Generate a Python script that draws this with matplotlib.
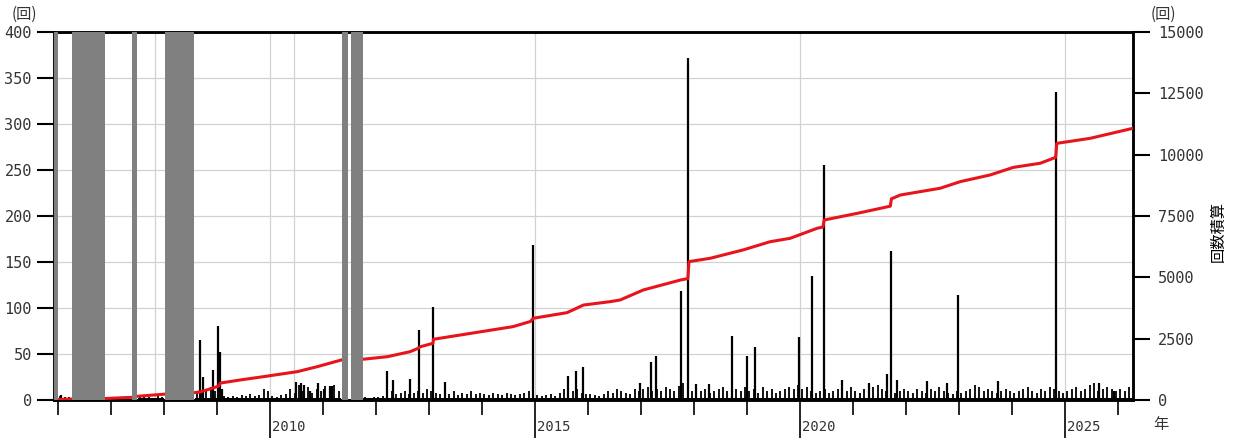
import numpy as np
import matplotlib.pyplot as plt
import matplotlib.transforms as mtransforms

# 日別回数のうち目立つもの (年(小数), 回数)
spike_years = [2006.05, 2008.68, 2008.74, 2008.91, 2009.02, 2009.05, 2009.09,
               2010.49, 2010.58, 2010.64, 2010.75, 2010.90, 2011.02, 2011.13, 2011.17,
               2012.21, 2012.32, 2012.64, 2012.81, 2013.07, 2013.30, 2014.96,
               2015.62, 2015.77, 2015.90, 2016.98, 2017.19, 2017.28, 2017.75, 2017.89,
               2018.04, 2018.28, 2018.72, 2019.00, 2019.15, 2019.98, 2020.23, 2020.45,
               2020.79, 2021.30, 2021.64, 2021.72, 2021.83, 2022.40, 2022.76, 2022.98,
               2023.73, 2024.82, 2025.64, 2025.92]
spike_counts = [5, 65, 25, 33, 80, 52, 12,
                20, 18, 16, 10, 18, 12, 15, 15,
                31, 22, 23, 76, 101, 20, 168,
                26, 32, 36, 19, 41, 48, 118, 372,
                17, 17, 70, 48, 58, 68, 135, 255,
                22, 18, 28, 162, 22, 21, 18, 114,
                21, 335, 19, 10]

# 月ごとの日別回数(背景)の目安 2006年1月から
background = [
    4, 3, 3, 0, 0, 0, 0, 0, 0, 0, 0, 2,          # 2006
    2, 3, 2, 3, 0, 0, 3, 4, 3, 2, 4, 3,          # 2007
    0, 0, 0, 0, 0, 0, 0, 8, 10, 12, 14, 10,      # 2008
    6, 4, 3, 4, 3, 5, 4, 6, 4, 5, 12, 10,        # 2009
    4, 3, 5, 6, 12, 8, 16, 10, 14, 8, 12, 10,    # 2010
    15, 12, 16, 10, 0, 0, 0, 0, 2, 3, 2, 3,      # 2011
    3, 4, 6, 10, 6, 8, 10, 6, 8, 10, 8, 12,      # 2012
    10, 8, 6, 8, 6, 10, 5, 8, 6, 10, 6, 8,       # 2013
    6, 5, 8, 6, 5, 8, 6, 5, 6, 8, 10, 6,         # 2014
    5, 4, 5, 6, 4, 8, 12, 6, 10, 12, 8, 6,       # 2015
    6, 5, 4, 6, 10, 8, 12, 10, 8, 6, 12, 10,     # 2016
    12, 14, 10, 12, 10, 14, 12, 10, 15, 18, 12, 10,  # 2017
    8, 10, 12, 8, 10, 12, 14, 10, 8, 12, 10, 14,     # 2018
    10, 12, 8, 14, 10, 12, 8, 10, 12, 14, 12, 16,    # 2019
    12, 14, 10, 8, 10, 12, 8, 10, 12, 8, 10, 14,     # 2020
    10, 8, 12, 10, 14, 16, 12, 10, 14, 8, 10, 12,    # 2021
    10, 8, 12, 10, 8, 12, 10, 14, 10, 8, 6, 10,      # 2022
    8, 10, 12, 16, 14, 10, 12, 10, 8, 10, 12, 10,    # 2023
    8, 10, 12, 14, 10, 8, 12, 10, 14, 12, 10, 8,     # 2024
    10, 12, 14, 10, 12, 16, 18, 10, 12, 14, 12, 10,  # 2025
    12, 10, 14, 8,                                   # 2026
]

# 回数積算 (None は欠測)
cum_years = [2006.0, 2006.26, None, 2006.89, 2007.40, None, 2007.49, 2008.02, None,
             2008.57, 2008.68, 2008.92, 2009.02, 2009.06, 2009.43, 2009.87, 2010.51,
             2010.89, 2011.34, None, 2011.75, 2012.21, 2012.64, 2012.79, 2012.83,
             2013.07, 2013.08, 2014.58, 2014.91, 2014.96, 2015.60, 2015.91, 2016.42,
             2016.60, 2017.04, 2017.74, 2017.88, 2017.90, 2018.30, 2018.92, 2019.43,
             2019.81, 2020.32, 2020.43, 2020.45, 2021.08, 2021.70, 2021.72, 2021.89,
             2022.64, 2023.02, 2023.58, 2024.02, 2024.53, 2024.82, 2024.84, 2025.47,
             2026.28]
cum_counts = [20, 40, None, 60, 110, None, 150, 240, None,
              300, 330, 490, 560, 690, 815, 950, 1155,
              1360, 1630, None, 1660, 1765, 1970, 2105, 2170,
              2310, 2475, 2990, 3200, 3330, 3560, 3870, 4010,
              4075, 4485, 4890, 4950, 5640, 5775, 6115, 6450,
              6590, 7000, 7050, 7335, 7610, 7900, 8200, 8355,
              8630, 8900, 9170, 9480, 9650, 9890, 10460, 10665,
              11075]

# 欠測期間
gaps = [(2005.90, 2006.0), (2006.26, 2006.89), (2007.40, 2007.49),
        (2008.02, 2008.57), (2011.36, 2011.47), (2011.53, 2011.75)]
extra_grid = [2007.83, 2010.45]

num_font = ['DejaVu Sans Mono']
jp_font = ['Noto Sans CJK JP', 'DejaVu Sans']

fig = plt.figure(figsize=(12.34, 4.38), dpi=100)
ax = fig.add_axes([0.0438, 0.0868, 0.8744, 0.8402])
ax2 = ax.twinx()

# 背景の日別回数
months = 2006 + (np.arange(len(background)) + 0.5) / 12
bg = np.array(background, dtype=float)
ax.bar(months, np.where(bg > 0, 2.5, 0), width=1 / 12, color='black', zorder=2)
ax.vlines(months, 0, bg, color='black', lw=1.3, zorder=2)
ax.vlines(spike_years, 0, spike_counts, color='black', lw=1.6, zorder=3)

ax.set_xlim(2005.92, 2026.28)
ax.set_ylim(0, 400)
ax.set_yticks(np.arange(0, 401, 50))
ax.grid(axis='y', color='#d2d2d2', lw=0.9)
ax.set_axisbelow(True)
for yr in [2010, 2015, 2020, 2025] + extra_grid:
    ax.axvline(yr, color='#d2d2d2', lw=0.9, zorder=0)

ax2.set_ylim(0, 15000)
ax2.set_yticks(np.arange(0, 15001, 2500))
cx = np.array([np.nan if v is None else v for v in cum_years])
cy = np.array([np.nan if v is None else v for v in cum_counts])
ax2.plot(cx, cy, color='#e8141c', lw=2.2, zorder=3)
for a, b in gaps:
    ax2.axvspan(a, b, color='#808080', lw=0, zorder=5)

# 軸・目盛
for s in ax.spines.values():
    s.set_linewidth(1.8)
for s in ax2.spines.values():
    s.set_linewidth(1.8)
ax.set_xticks([2010, 2015, 2020, 2025])
ax.set_xticks(np.arange(2006, 2027), minor=True)
ax.tick_params(axis='x', which='major', length=30, width=1.2, labelbottom=False)
ax.tick_params(axis='x', which='minor', length=11, width=1.2)
ax.tick_params(axis='y', length=12, width=1.5, pad=4, labelsize=11, labelcolor='#333333')
ax2.tick_params(axis='y', length=12, width=1.5, pad=6, labelsize=11, labelcolor='#333333')
for lab in ax.get_yticklabels() + ax2.get_yticklabels():
    lab.set_family(num_font)

trans = mtransforms.blended_transform_factory(ax.transData, ax.transAxes)
for yr in [2010, 2015, 2020, 2025]:
    ax.text(yr + 0.03, -0.073, str(yr), transform=trans, ha='left', va='center',
            fontsize=10, family=num_font, color='#333333')

fig.text(24 / 1234, 1 - 14 / 438, '(回)', ha='center', va='center', fontsize=11,
         family=jp_font, color='#333333')
fig.text(1163 / 1234, 1 - 14 / 438, '(回)', ha='center', va='center', fontsize=11,
         family=jp_font, color='#333333')
fig.text(1218 / 1234, 1 - 232 / 438, '回数積算', ha='center', va='center', fontsize=11,
         rotation=90, family=jp_font, color='black')
fig.text(1161 / 1234, 1 - 425 / 438, '年', ha='center', va='center', fontsize=11,
         family=jp_font, color='#333333')

fig.savefig('out.png', dpi=100)
